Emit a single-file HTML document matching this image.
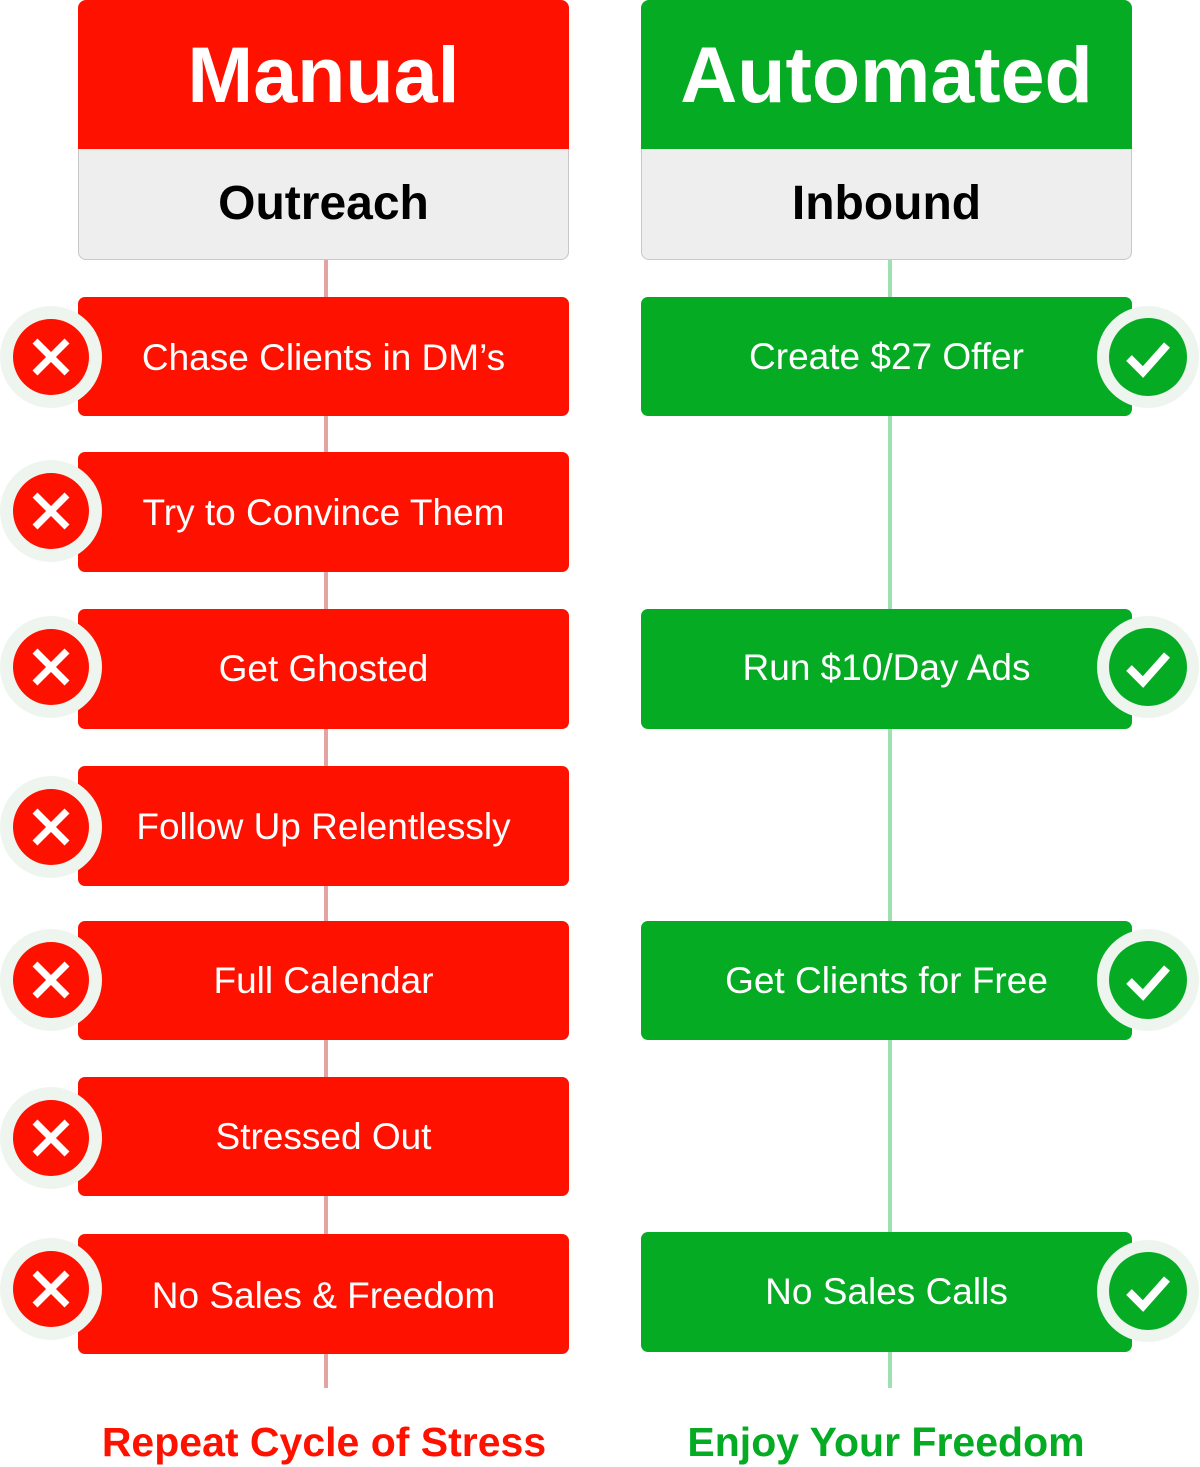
<!DOCTYPE html>
<html><head><style>
body{margin:0;width:1200px;height:1465px;background:#fff;position:relative;overflow:hidden;font-family:"Liberation Sans",sans-serif}
.a{position:absolute}
.hd{border-radius:8px 8px 0 0;color:#fff;font-weight:bold;font-size:79px;text-align:center;line-height:149px;height:149px;width:491px;top:0}
.sub{top:149px;height:110px;width:489px;background:#eeeeee;border:1px solid #c8c8c8;border-top:none;border-radius:0 0 8px 8px;font-weight:bold;font-size:48px;line-height:110px;text-align:center;color:#000}
.r{left:78px;width:491px;background:#ff1100;border-radius:7px;color:#fff;font-size:37px;text-align:center}
.g{left:641px;width:491px;background:#05ab23;border-radius:7px;color:#fff;font-size:37px;text-align:center}
.ln{width:4px}
.ft{font-weight:bold;font-size:41px;top:1417px;text-align:center;width:600px;line-height:50px}
</style></head><body>
<div class="a ln" style="left:324px;top:258px;height:1130px;background:#e3a3a0"></div>
<div class="a ln" style="left:888px;top:258px;height:1130px;background:#9fe0b0"></div>

<div class="a hd" style="left:78px;background:#ff1100">Manual</div>
<div class="a sub" style="left:78px">Outreach</div>
<div class="a hd" style="left:641px;background:#05ab23">Automated</div>
<div class="a sub" style="left:641px">Inbound</div>

<div class="a r" style="top:297px;height:119px;line-height:122px">Chase Clients in DM’s</div>
<div class="a r" style="top:452px;height:120px;line-height:122px">Try to Convince Them</div>
<div class="a r" style="top:609px;height:120px;line-height:120px">Get Ghosted</div>
<div class="a r" style="top:766px;height:120px;line-height:122px">Follow Up Relentlessly</div>
<div class="a r" style="top:921px;height:119px;line-height:120px">Full Calendar</div>
<div class="a r" style="top:1077px;height:119px;line-height:120px">Stressed Out</div>
<div class="a r" style="top:1234px;height:120px;line-height:124px">No Sales &amp; Freedom</div>

<div class="a g" style="top:297px;height:119px;line-height:119px">Create $27 Offer</div>
<div class="a g" style="top:609px;height:120px;line-height:118px">Run $10/Day Ads</div>
<div class="a g" style="top:921px;height:119px;line-height:119px">Get Clients for Free</div>
<div class="a g" style="top:1232px;height:120px;line-height:120px">No Sales Calls</div>

<svg class="a" style="left:0;top:0" width="1200" height="1465">
<defs>
<g id="x"><circle r="51" fill="#eef5ef"/><circle r="38" fill="#ff1100"/><path d="M-16,-16L16,16M16,-16L-16,16" stroke="#fff" stroke-width="7" stroke-linecap="butt"/></g>
<g id="v"><circle r="51" fill="#eef5ef"/><circle r="39" fill="#05ab23"/><path d="M-19,1L-5,15L19,-12" stroke="#fff" stroke-width="8" fill="none" stroke-linecap="butt" stroke-linejoin="miter"/></g>
</defs>
<use href="#x" x="51" y="357"/>
<use href="#x" x="51" y="511"/>
<use href="#x" x="51" y="667"/>
<use href="#x" x="51" y="827"/>
<use href="#x" x="51" y="980"/>
<use href="#x" x="51" y="1138"/>
<use href="#x" x="51" y="1289"/>
<use href="#v" x="1148" y="357"/>
<use href="#v" x="1148" y="667"/>
<use href="#v" x="1148" y="980"/>
<use href="#v" x="1148" y="1291"/>
</svg>

<div class="a ft" style="left:24px;color:#ff1100">Repeat Cycle of Stress</div>
<div class="a ft" style="left:586px;color:#05ab23">Enjoy Your Freedom</div>
</body></html>
